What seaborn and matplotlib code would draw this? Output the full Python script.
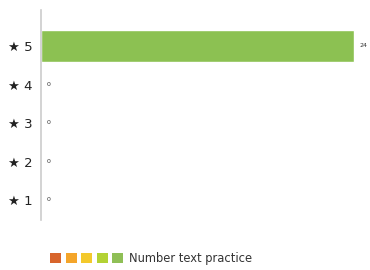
import matplotlib
matplotlib.use('Agg')
from matplotlib import pyplot as plt
from matplotlib.patches import Patch
from matplotlib.legend_handler import HandlerTuple
import pandas as pd
import seaborn as sns

# data
ratings = ['★ 5', '★ 4', '★ 3', '★ 2', '★ 1']
counts = [24, 0, 0, 0, 0]
legend_colors = ['#d8652c', '#f4a52a', '#f3c92c', '#b3d234', '#8fbf56']
legend_label = 'Number text practice'
bar_color = '#8cc152'


def main():
    sns.set_style('white')
    plt.rcParams['font.family'] = ['DejaVu Sans']
    df = pd.DataFrame({'rating': ratings, 'count': counts})

    fig = plt.figure(figsize=(3.7, 2.7), dpi=100)
    ax = fig.add_axes([41 / 370, 50 / 270, 316 / 370, 210 / 270])
    sns.barplot(data=df, x='count', y='rating', orient='h', color=bar_color,
                width=0.83, saturation=1, ax=ax)

    ax.set_xlim(0, 24.2)
    ax.set_ylim(4.52, -0.935)
    ax.set_xlabel('')
    ax.set_ylabel('')
    ax.set_xticks([])
    for s in ['top', 'right', 'bottom']:
        ax.spines[s].set_visible(False)
    ax.spines['left'].set_color('#cccccc')
    ax.spines['left'].set_linewidth(1.2)
    ax.tick_params(axis='y', length=0, pad=6, labelsize=9.5, labelcolor='#222222')

    for i, v in enumerate(counts):
        ax.text(v + 0.4, i, str(v), ha='left', va='center', fontsize=4.5,
                color='#333333', clip_on=False)

    handles = [tuple(Patch(facecolor=c, edgecolor='none') for c in legend_colors)]
    fig.legend(handles, [legend_label], loc='center left',
               bbox_to_anchor=(40 / 370, 11 / 270 + 0.003), frameon=False,
               handler_map={tuple: HandlerTuple(ndivide=None, pad=0.4)},
               handlelength=6.3, handleheight=1.0, handletextpad=0.5,
               fontsize=8.3, labelcolor='#333333')

    fig.savefig('out.png', dpi=100)


if __name__ == '__main__':
    main()
